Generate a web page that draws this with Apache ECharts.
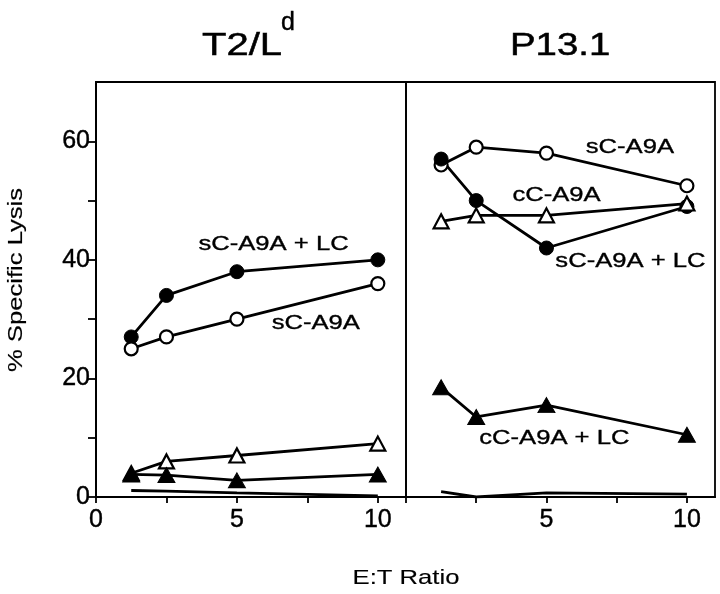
<!DOCTYPE html>
<html><head><meta charset="utf-8">
<script src="https://cdn.jsdelivr.net/npm/echarts@6/dist/echarts.min.js"></script>
<style>html,body{margin:0;padding:0;background:#fff}#c{width:720px;height:594px}</style>
</head><body><div id="c"></div>
<script>
// ---- data ----
const ratios = [1.25, 2.5, 5, 10];
// T2/Ld panel
const t2_sC_LC = [27, 34, 38, 40];
const t2_sC    = [25, 27, 30, 36];
const t2_cC    = [4, 6, 7, 9];
const t2_cC_LC = [3.8, 3.7, 2.8, 3.8];
const t2_none  = [1.1, 1.0, 0.7, 0.2];
// P13.1 panel
const p13_sC_LC = [57, 50, 42, 49];
const p13_sC    = [56, 59, 58, 52.5];
const p13_cC    = [46.5, 47.5, 47.5, 49.5];
const p13_cC_LC = [18.5, 13.5, 15.5, 10.5];
const p13_none  = [0.9, 0, 0.7, 0.5];
// ticks
const yTicks = [0, 10, 20, 30, 40, 50, 60];
const yLabels = [0, 20, 40, 60];
const xTicks = [0, 2.5, 5, 7.5, 10];
const xLabelsLeft = [0, 5, 10];
const xLabelsRight = [5, 10];
const yAxisTitle = '% Specific Lysis';
const xAxisTitle = 'E:T Ratio';
// annotations: [panel, text, x, y] in data coordinates
const notes = [
  [0, 'sC-A9A + LC', 6.3, 42.6],
  [0, 'sC-A9A', 7.8, 29.3],
  [1, 'sC-A9A', 7.97, 59.0],
  [1, 'cC-A9A', 5.36, 50.9],
  [1, 'sC-A9A + LC', 7.99, 39.7],
  [1, 'cC-A9A + LC', 5.28, 9.9]
];

// ---- styles ----
const FONT = '"Liberation Sans", Arial, sans-serif';
const TICKFONT = '"Liberation Sans Narrow", "Liberation Sans", Arial, sans-serif';
const STRETCH = 1.22;

function pts(arr) { return ratios.map((x, i) => [x, arr[i]]); }
function mk(data, gi, kind) {
  const s = {
    type: 'line', xAxisIndex: gi, yAxisIndex: gi, data: pts(data),
    lineStyle: { color: '#000', width: 2.8 },
    emphasis: { disabled: true }, silent: true, z: 3
  };
  if (kind === 'none') { s.symbol = 'none'; s.showSymbol = false; s.z = 2; }
  else if (kind === 'fc') { s.symbol = 'circle'; s.symbolSize = 14; s.itemStyle = { color: '#000', borderColor: '#000', borderWidth: 1 }; }
  else if (kind === 'oc') { s.symbol = 'circle'; s.symbolSize = 13; s.itemStyle = { color: '#fff', borderColor: '#000', borderWidth: 2.2 }; }
  else if (kind === 'ot') { s.symbol = 'triangle'; s.symbolSize = [15, 14]; s.itemStyle = { color: '#fff', borderColor: '#000', borderWidth: 2.2 }; }
  else if (kind === 'ft') { s.symbol = 'triangle'; s.symbolSize = [17, 15]; s.itemStyle = { color: '#000', borderColor: '#000', borderWidth: 1 }; }
  return s;
}

const grids = [
  { left: 96, top: 82, width: 310, height: 415 },
  { left: 406, top: 82, width: 309, height: 415 }
].map(g => Object.assign(g, { show: true, borderColor: '#000', borderWidth: 1.8, backgroundColor: 'transparent' }));

function xAx(gi, labels) {
  return {
    type: 'value', gridIndex: gi, min: 0, max: 11, interval: 2.5,
    axisLine: { show: true, lineStyle: { color: '#000', width: 2 } },
    axisTick: { show: true, inside: false, length: 6, lineStyle: { color: '#000', width: 1.8 }, customValues: xTicks },
    axisLabel: { show: true, customValues: labels, margin: 11, color: '#000', fontSize: 25, fontFamily: TICKFONT,
      textBorderColor: '#000', textBorderWidth: 0.4 },
    splitLine: { show: false }
  };
}
function yAx(gi) {
  const vis = gi === 0;
  return {
    type: 'value', gridIndex: gi, min: 0, max: 70, interval: 10,
    axisLine: { show: vis, lineStyle: { color: '#000', width: 2 } },
    axisTick: { show: vis, length: 8, lineStyle: { color: '#000', width: 1.8 }, customValues: yTicks },
    axisLabel: { show: vis, customValues: yLabels, margin: 6, color: '#000', fontSize: 25, fontFamily: TICKFONT,
      textBorderColor: '#000', textBorderWidth: 0.4 },
    splitLine: { show: false }
  };
}

const chart = echarts.init(document.getElementById('c'), null, { renderer: 'canvas' });
chart.setOption({
  animation: false,
  backgroundColor: '#fff',
  grid: grids,
  xAxis: [xAx(0, xLabelsLeft), xAx(1, xLabelsRight)],
  yAxis: [yAx(0), yAx(1)],
  series: [
    mk(t2_none, 0, 'none'),
    mk(t2_sC_LC, 0, 'fc'),
    mk(t2_sC, 0, 'oc'),
    mk(t2_cC, 0, 'ot'),
    mk(t2_cC_LC, 0, 'ft'),
    mk(p13_none, 1, 'none'),
    mk(p13_sC, 1, 'oc'),
    mk(p13_sC_LC, 1, 'fc'),
    mk(p13_cC, 1, 'ot'),
    mk(p13_cC_LC, 1, 'ft')
  ]
});

function txt(text, x, y, size, opts) {
  opts = opts || {};
  return {
    type: 'text', x: x, y: y, scaleX: opts.sx || 1, rotation: opts.rot || 0, z: 10, silent: true,
    style: { text: text, x: 0, y: 0, fill: '#000', fontSize: size, fontFamily: FONT,
      stroke: '#000', lineWidth: opts.lw == null ? 0.35 : opts.lw,
      align: opts.align || 'center', verticalAlign: 'middle' }
  };
}
const gr = [];
notes.forEach(n => {
  const p = chart.convertToPixel({ gridIndex: n[0] }, [n[2], n[3]]);
  gr.push(txt(n[1], p[0], p[1], 21, { sx: STRETCH }));
});
// panel titles
gr.push(txt('T2/L', 202, 46.5, 32, { sx: 1.25, align: 'left', lw: 0.5 }));
gr.push(txt('d', 281, 23, 25, { align: 'left', lw: 0.4 }));
gr.push(txt('P13.1', 510, 46.5, 32, { sx: 1.2, align: 'left', lw: 0.5 }));
// axis titles
gr.push(txt(yAxisTitle, 16, 280, 21, { sx: STRETCH, rot: Math.PI / 2, lw: 0.15 }));
gr.push(txt(xAxisTitle, 406, 578, 21, { sx: STRETCH, lw: 0.15 }));
chart.setOption({ graphic: gr });
</script>
</body></html>
